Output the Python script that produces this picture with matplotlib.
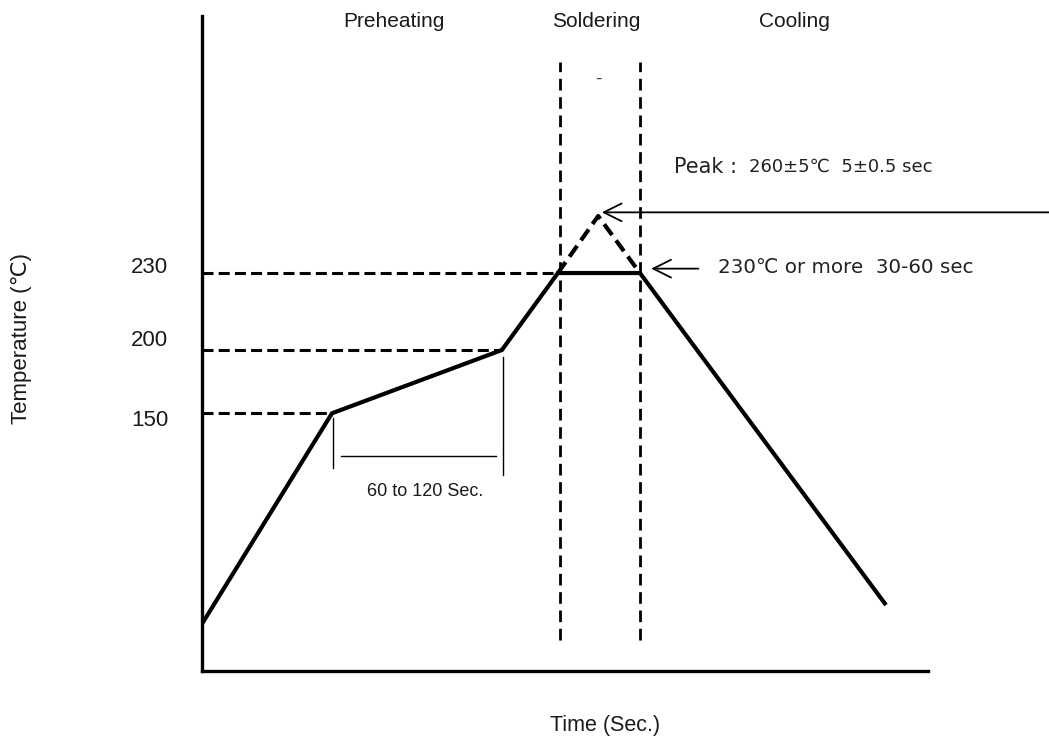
import matplotlib
matplotlib.use('Agg')
import matplotlib.pyplot as plt

# Schematic reflow profile (arbitrary 0-100 units, not to scale)
profile_time = [0.0, 17.96, 41.35, 49.06, 60.35, 94.22]
profile_temp = [7.0, 39.3, 48.97, 60.73, 60.73, 10.0]

peak_time = [49.06, 54.6, 60.35]
peak_temp = [60.73, 69.44, 60.73]

level_values = [60.73, 48.97, 39.3]
level_ends = [49.06, 41.35, 17.96]
level_labels = ['230', '200', '150']
level_label_y = [61.5, 50.4, 38.2]

zone_edges = [49.35, 60.35]
zone_names = ['Preheating', 'Soldering', 'Cooling']
zone_centers = [26.5, 54.4, 81.6]

sans = ['Liberation Sans', 'DejaVu Sans']
tahoma = ['DejaVu Sans']

fig = plt.figure(figsize=(10.49, 7.42), dpi=100)
ax = fig.add_axes([201.5 / 1049, (742 - 670.5) / 742, 726.5 / 1049, 654.5 / 742])
ax.set_xlim(0, 100)
ax.set_ylim(0, 100)
for side in ('top', 'right'):
    ax.spines[side].set_visible(False)
for side in ('left', 'bottom'):
    ax.spines[side].set_linewidth(2.4)
    ax.spines[side].set_color('black')
ax.set_xticks([])
ax.set_yticks([])

# profile
ax.plot(profile_time, profile_temp, color='black', lw=3.0,
        solid_joinstyle='miter', solid_capstyle='butt', zorder=3)
ax.plot(peak_time, peak_temp, color='black', lw=3.0,
        linestyle=(0, (3.2, 1.6)), zorder=3)

# level lines
for val, end, lab, ly in zip(level_values, level_ends, level_labels, level_label_y):
    ax.plot([0, end], [val, val], color='black', lw=2.2,
            linestyle=(0, (3.6, 1.7)), zorder=2)
    ax.text(-4.6, ly, lab, ha='right', va='center', fontsize=16, family=sans,
            color='#1a1a1a')

# zone boundaries
for xz in zone_edges:
    ax.plot([xz, xz], [4.66, 92.97], color='black', lw=2.0,
            linestyle=(0, (4.2, 2.4)), zorder=2)

for name, xc in zip(zone_names, zone_centers):
    ax.text(xc, 99.2, name, ha='center', va='center', fontsize=15, family=sans,
            color='#1a1a1a')

# stray mark under "Soldering"
ax.text(54.6, 90.3, '-', ha='center', va='center', fontsize=14, color='#444444',
        family=sans)

# 60 to 120 bracket
ax.plot([18.1, 18.1], [38.6, 31.0], color='black', lw=1.0)
ax.plot([41.5, 41.5], [47.9, 29.8], color='black', lw=1.0)
ax.plot([19.2, 40.6], [32.8, 32.8], color='black', lw=1.0)
ax.text(30.8, 27.3, '60 to 120 Sec.', ha='center', va='center', fontsize=13,
        family=sans, color='#1a1a1a')

# peak annotation
ax.annotate('', xy=(55.1, 70.0), xytext=(116.7, 70.0), annotation_clip=False,
            arrowprops=dict(arrowstyle='->', lw=1.3, color='black',
                            mutation_scale=32, shrinkA=0, shrinkB=0))
ax.text(65.0, 77.0, 'Peak : ', ha='left', va='center', fontsize=15,
        family=tahoma, color='#222222')
ax.text(75.3, 77.0, '260±5℃  5±0.5 sec', ha='left', va='center', fontsize=13,
        family=tahoma, color='#222222')

# 230 or more annotation
ax.annotate('', xy=(61.9, 61.4), xytext=(68.4, 61.4), annotation_clip=False,
            arrowprops=dict(arrowstyle='->', lw=1.3, color='black',
                            mutation_scale=32, shrinkA=0, shrinkB=0))
ax.text(71.1, 61.5, '230℃ or more  30-60 sec', ha='left', va='center',
        fontsize=14.3, family=tahoma, color='#222222')

# axis titles
fig.text(22 / 1049, 1 - 338 / 742, 'Temperature (℃)', rotation=90,
         ha='center', va='center', fontsize=16, family=sans, color='#1a1a1a')
fig.text(605 / 1049, 1 - 725 / 742, 'Time (Sec.)', ha='center', va='center',
         fontsize=15.5, family=sans, color='#1a1a1a')

fig.savefig('out.png', dpi=100, facecolor='white')
